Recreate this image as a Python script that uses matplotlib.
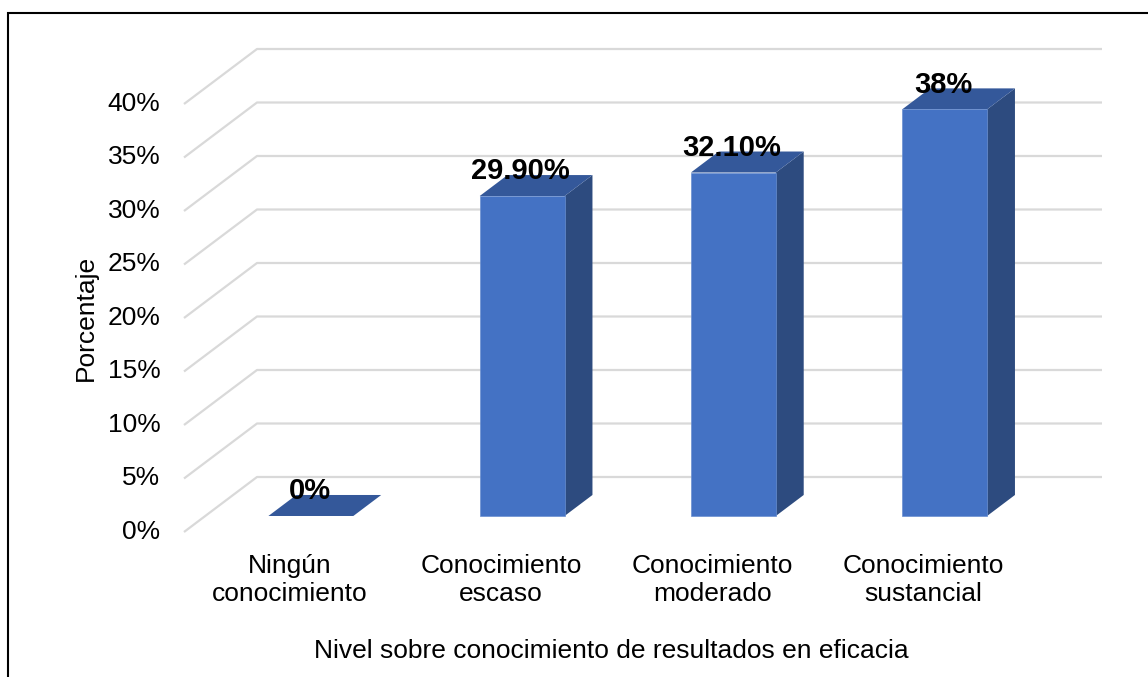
import numpy as np
import matplotlib
matplotlib.use("Agg")
import matplotlib.pyplot as plt
from matplotlib.patches import Polygon, Rectangle

plt.rcParams['font.family'] = ['Liberation Sans', 'DejaVu Sans']

# data
categorias = ["Ningún\nconocimiento", "Conocimiento\nescaso",
              "Conocimiento\nmoderado", "Conocimiento\nsustancial"]
valores = [0.0, 29.9, 32.1, 38.0]
etiquetas = ["0%", "29.90%", "32.10%", "38%"]
yticks = [0, 5, 10, 15, 20, 25, 30, 35, 40]

# colours
c_front = '#4472C4'
c_side = '#2D4B7F'
c_top = '#34589A'
c_grid = '#D9D9D9'

W, H = 1148, 677
fig = plt.figure(figsize=(W / 100, H / 100), dpi=100)

# axes = back wall of the 3D box (data: category index / percent)
ax = fig.add_axes([257 / W, (H - 477) / H, 845 / W, 428 / H])
ax.set_xlim(-0.5, 3.5)
ax.set_ylim(0, 40)
ax.axis('off')

# depth vector from back wall to front plane, in data units
DX, DY = -0.3456, -5.14
f_back, f_front = 0.327, 0.709
bw = 0.402

# gridlines: floor diagonal on the side wall + back wall line
for v in yticks:
    ax.plot([-0.5 + DX, -0.5, 3.5], [v + DY, v, v], color=c_grid, lw=1.6,
            clip_on=False, zorder=1, solid_capstyle='butt')
    ax.annotate(f"{v}%", xy=(-0.5 + DX, v + DY), xytext=(-17, 0),
                textcoords='offset points', ha='right', va='center',
                fontsize=19, annotation_clip=False)

for i, (v, lab) in enumerate(zip(valores, etiquetas)):
    x0, x1 = i - bw / 2, i + bw / 2
    fx, fy = f_front * DX, f_front * DY
    bx, by = f_back * DX, f_back * DY
    # right side face
    side = Polygon([(x1 + fx, fy), (x1 + bx, by), (x1 + bx, v + by), (x1 + fx, v + fy)],
                   closed=True, facecolor=c_side, edgecolor='none', clip_on=False, zorder=3)
    # top face
    top = Polygon([(x0 + fx, v + fy), (x1 + fx, v + fy), (x1 + bx, v + by), (x0 + bx, v + by)],
                  closed=True, facecolor=c_top, edgecolor='none', clip_on=False, zorder=3)
    ax.add_patch(side)
    ax.add_patch(top)
    if v > 0:
        front = Rectangle((x0 + fx, fy), bw, v, facecolor=c_front,
                          edgecolor='#6A8FD0', lw=0.5, clip_on=False, zorder=4)
        ax.add_patch(front)
    # value label
    ax.annotate(lab, xy=(i + fx, v + by), xytext=(-1, -3), textcoords='offset points',
                ha='center', va='baseline', fontsize=21, fontweight='bold',
                annotation_clip=False, zorder=6)
    # category label, centred on the front edge of the floor
    ax.annotate(categorias[i], xy=(i + DX, DY), xytext=(0, -16), textcoords='offset points',
                ha='center', va='top', fontsize=19, linespacing=1.22,
                annotation_clip=False)

fig.text(86 / W, 1 - 318 / H, "Porcentaje", rotation=90, ha='center', va='center',
         fontsize=19)
fig.text(611 / W, 1 - 651 / H, "Nivel sobre conocimiento de resultados en eficacia",
         ha='center', va='center', fontsize=19)

# chart border
fig.patches.append(Rectangle((8 / W, -0.05), 1.1, 1 - 13 / H + 0.05, transform=fig.transFigure,
                             fill=False, edgecolor='black', lw=1.5))

fig.savefig("out.png", dpi=100)
